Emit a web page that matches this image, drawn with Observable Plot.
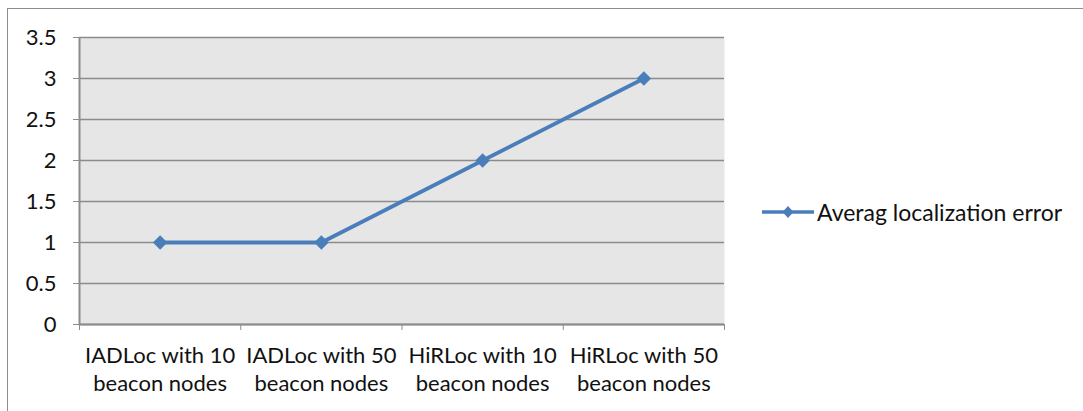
<!DOCTYPE html>
<html>
<head>
<meta charset="utf-8">
<script src="https://cdn.jsdelivr.net/npm/d3@7"></script>
<script src="https://cdn.jsdelivr.net/npm/@observablehq/plot@0.6"></script>
<style>
  html, body { margin: 0; padding: 0; background: #fff; }
  #wrap { position: relative; width: 1083px; height: 411px; overflow: hidden; }
  #border { position: absolute; left: 7px; top: 8px; width: 1090px; height: 420px; border: 1.5px solid #8c8c8c; box-sizing: border-box; }
  #legend { position: absolute; left: 762px; top: 198px; display: flex; align-items: center; font-family: Lato, "Open Sans", sans-serif; font-size: 23px; color: #111; }
  #legend span { margin-left: 3px; }
</style>
</head>
<body>
<div id="wrap">
  <div id="chart"></div>
  <div id="border"></div>
  <div id="legend"></div>
</div>
<script>
const categories = [
  "IADLoc with 10\nbeacon nodes",
  "IADLoc with 50\nbeacon nodes",
  "HiRLoc with 10\nbeacon nodes",
  "HiRLoc with 50\nbeacon nodes"
];
const values = [1, 1, 2, 3];
const seriesName = "Averag localization error";
const yTicks = [0, 0.5, 1, 1.5, 2, 2.5, 3, 3.5];

const lineColor = "#4a7ebb";
const data = categories.map((c, i) => ({pos: i + 0.5, label: c, value: values[i]}));
const font = "Lato, 'Open Sans', sans-serif";

const chart = Plot.plot({
  width: 1083,
  height: 411,
  marginLeft: 79,
  marginRight: 359,
  marginTop: 37,
  marginBottom: 87,
  style: {fontFamily: font, fontSize: "22px", color: "#111", background: "transparent"},
  x: {domain: [0, categories.length], axis: null, label: null},
  y: {domain: [0, 3.5], axis: null, label: null},
  marks: [
    Plot.frame({fill: "#e6e6e6", stroke: "none"}),
    Plot.ruleY(yTicks, {stroke: "#8c8c8c", strokeWidth: 1.5}),
    Plot.axisY({ticks: yTicks, tickSize: 6, tickPadding: 17, stroke: "#8c8c8c", tickFormat: d => String(d), fontSize: 22, fill: "#111", label: null}),
    Plot.axisX({ticks: d3.range(categories.length + 1), tickSize: 6, tickFormat: () => "", stroke: "#8c8c8c", label: null}),
    Plot.ruleX([0], {stroke: "#8c8c8c", strokeWidth: 2}),
    Plot.ruleY([0], {stroke: "#8c8c8c", strokeWidth: 2}),
    Plot.text(data, {x: "pos", y: () => 0, text: "label", lineAnchor: "top", dy: 19, lineHeight: 1.25, fontSize: 22, fill: "#111"}),
    Plot.line(data, {x: "pos", y: "value", stroke: lineColor, strokeWidth: 3.8}),
    Plot.dot(data, {x: "pos", y: "value", symbol: "square", rotate: 45, r: 5.8, fill: lineColor, stroke: "none"})
  ]
});
document.getElementById("chart").appendChild(chart);

const legend = document.getElementById("legend");
legend.innerHTML = `<svg width="52" height="20"><line x1="0" y1="10" x2="52" y2="10" stroke="${lineColor}" stroke-width="3.5"/><path d="M26 4 L31.5 10 L26 16 L20.5 10 Z" fill="${lineColor}"/></svg><span>${seriesName}</span>`;
</script>
</body>
</html>
